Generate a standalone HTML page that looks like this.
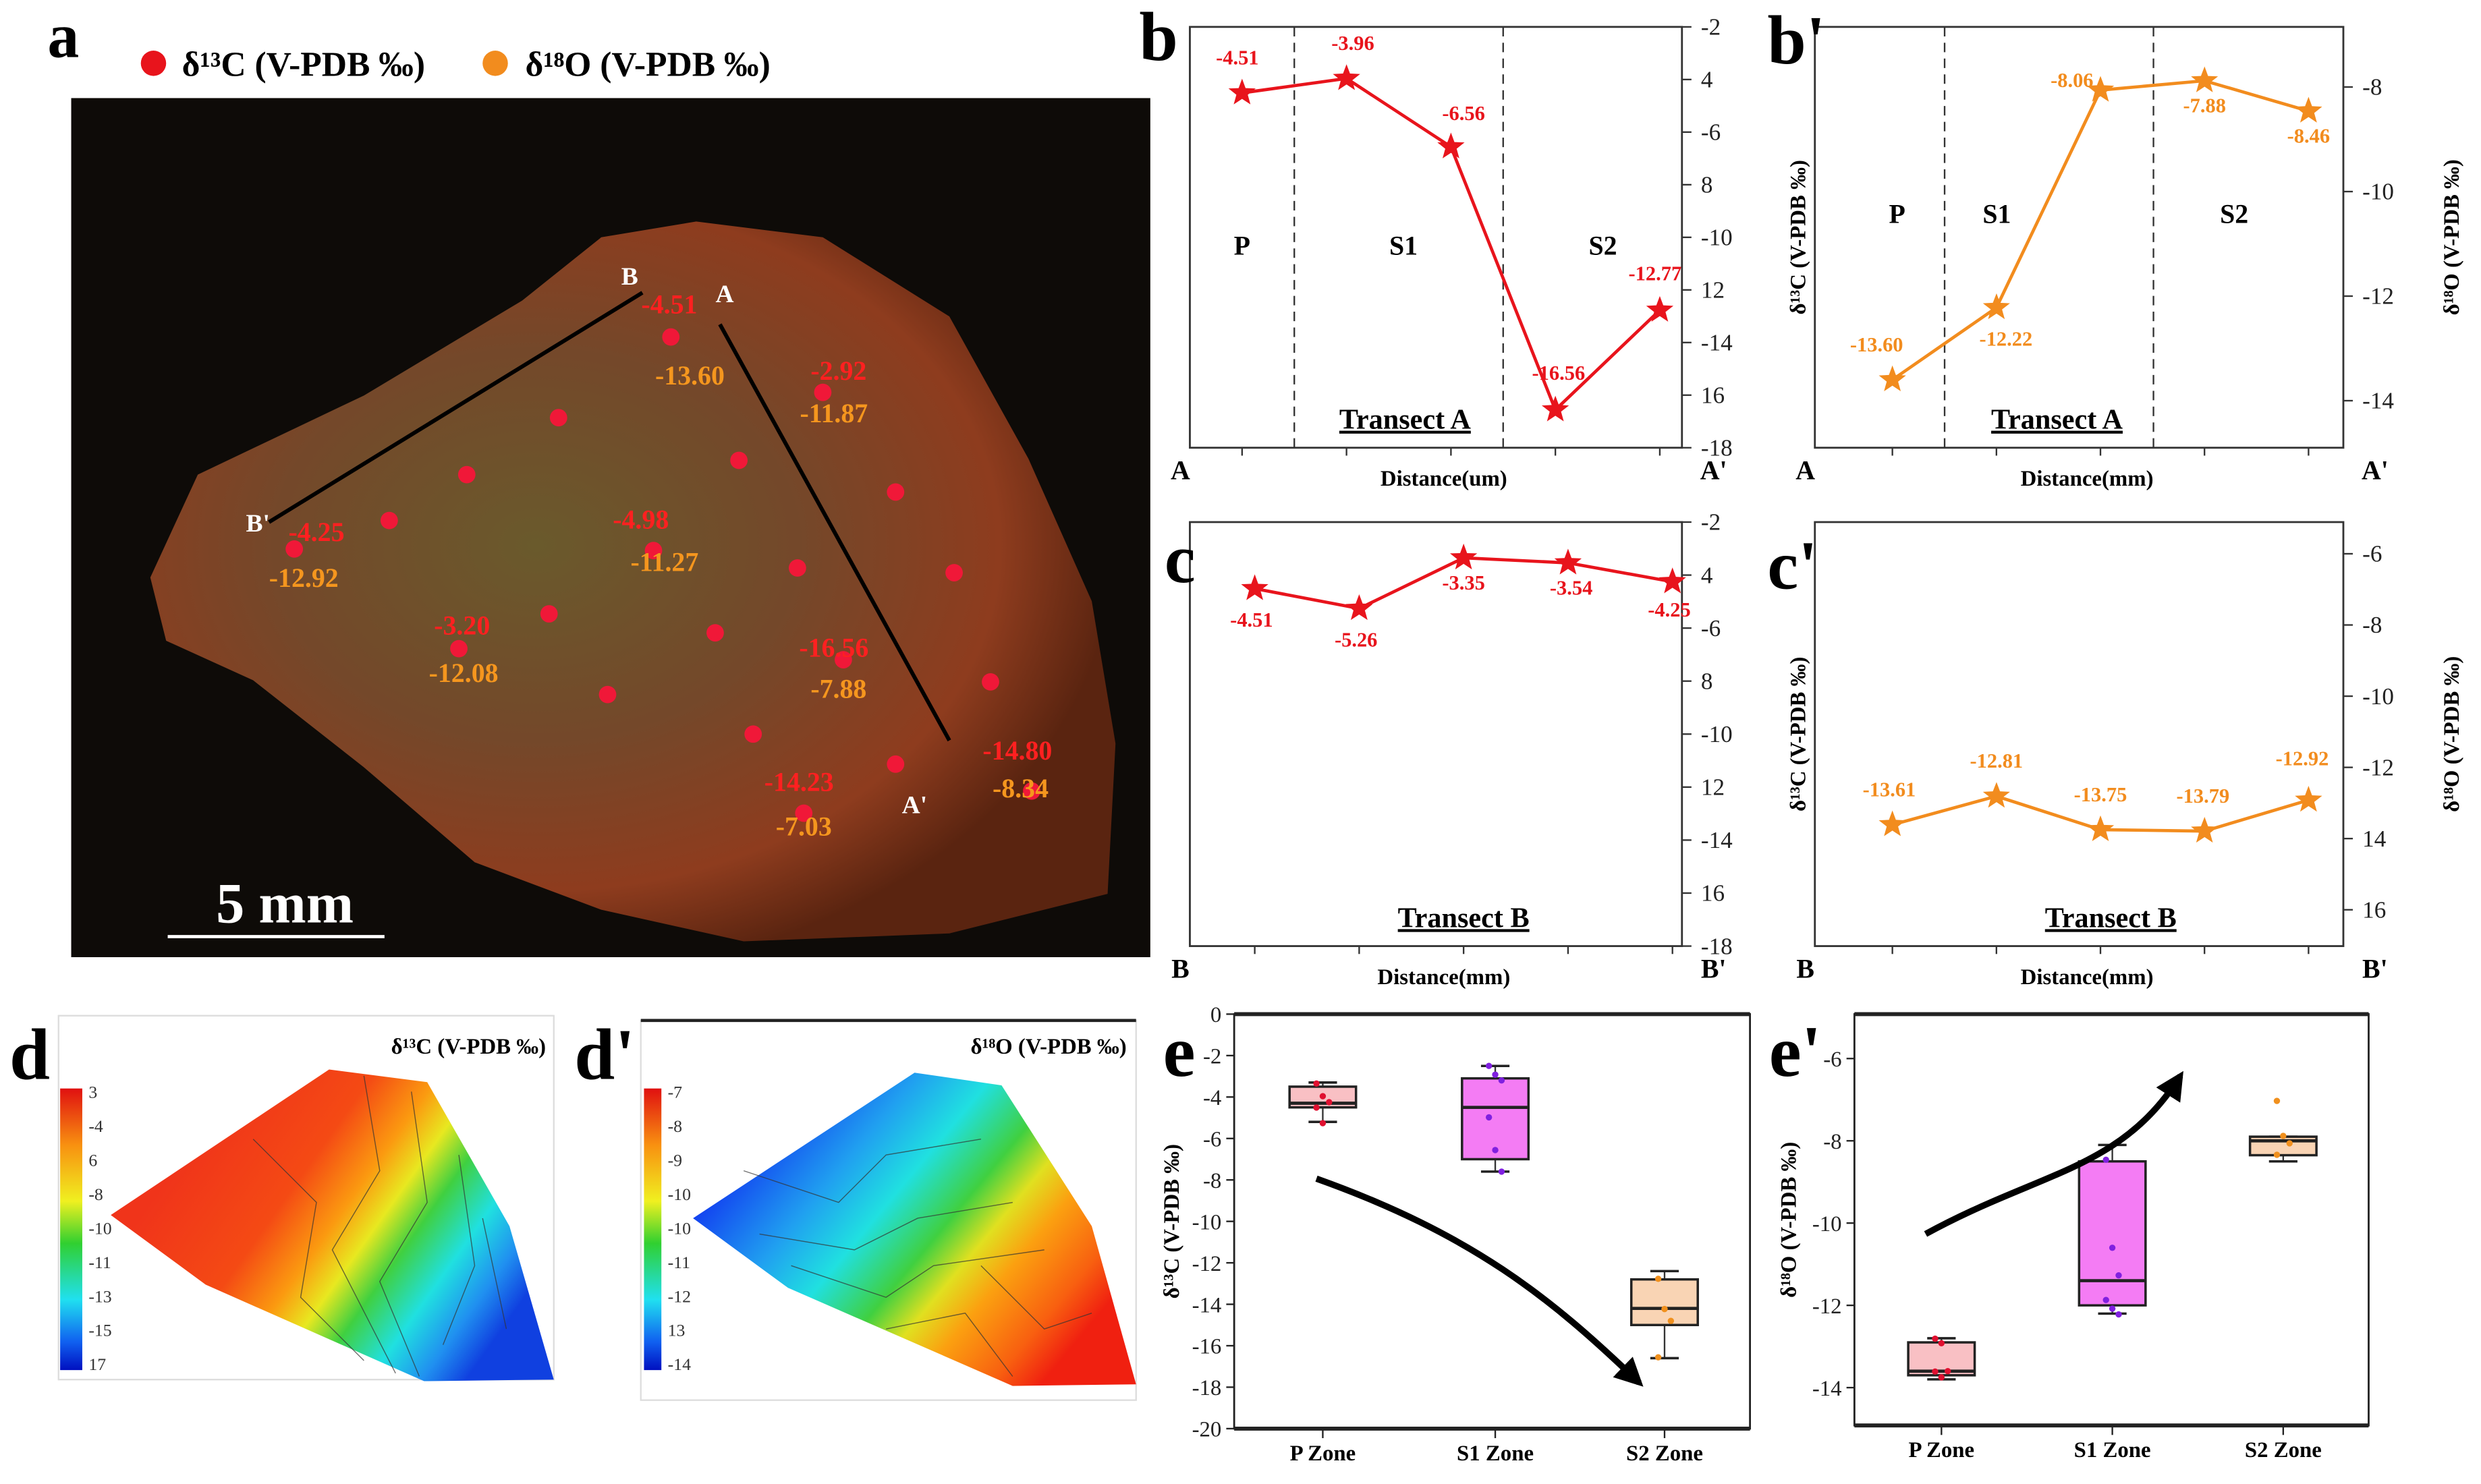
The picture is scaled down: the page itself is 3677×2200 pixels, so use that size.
<!DOCTYPE html>
<html><head><meta charset="utf-8"><style>
html,body{margin:0;padding:0;background:#fff;}
svg{display:block;font-family:"Liberation Serif",serif;font-weight:bold;}
</style></head><body>
<svg id="fig" width="3677" height="2200" viewBox="0 0 1568 938" preserveAspectRatio="none" xmlns="http://www.w3.org/2000/svg">
<defs>
<radialGradient id="sampG" cx="0.4" cy="0.45" r="0.6">
<stop offset="0" stop-color="#6a5a2c"/><stop offset="0.45" stop-color="#74482a"/><stop offset="0.8" stop-color="#8e3c1e"/><stop offset="1" stop-color="#5a2410"/></radialGradient>
<linearGradient id="dG" x1="0.15" y1="0.3" x2="0.95" y2="0.7">
<stop offset="0" stop-color="#f0341a"/><stop offset="0.3" stop-color="#f44a14"/><stop offset="0.45" stop-color="#fb9a10"/><stop offset="0.55" stop-color="#e8e820"/><stop offset="0.65" stop-color="#40d040"/><stop offset="0.78" stop-color="#20e0e0"/><stop offset="0.9" stop-color="#2090f0"/><stop offset="1" stop-color="#1040e0"/></linearGradient>
<linearGradient id="dpG" x1="0.05" y1="0.3" x2="0.9" y2="0.8">
<stop offset="0" stop-color="#1030f0"/><stop offset="0.25" stop-color="#20a0f0"/><stop offset="0.4" stop-color="#20e0e0"/><stop offset="0.55" stop-color="#40d040"/><stop offset="0.65" stop-color="#e0e020"/><stop offset="0.75" stop-color="#fba010"/><stop offset="0.9" stop-color="#f86010"/><stop offset="1" stop-color="#f02010"/></linearGradient>
<linearGradient id="cbG" x1="0" y1="0" x2="0" y2="1">
<stop offset="0" stop-color="#e01010"/><stop offset="0.2" stop-color="#f89010"/><stop offset="0.4" stop-color="#f0f020"/><stop offset="0.55" stop-color="#30d030"/><stop offset="0.75" stop-color="#20e0f0"/><stop offset="0.9" stop-color="#1060f0"/><stop offset="1" stop-color="#0010c0"/></linearGradient>
<marker id="arrowHead" viewBox="0 0 10 10" refX="8" refY="5" markerWidth="4.5" markerHeight="4.5" orient="auto"><path d="M0,0 L10,5 L0,10 z" fill="#000"/></marker>
</defs>
</svg>
<script>
// ---- Data ----
const transectA_C = [-4.51, -3.96, -6.56, -16.56, -12.77];
const transectA_O = [-13.60, -12.22, -8.06, -7.88, -8.46];
const transectB_C = [-4.51, -5.26, -3.35, -3.54, -4.25];
const transectB_O = [-13.61, -12.81, -13.75, -13.79, -12.92];
const ticksB = ["-2","4","-6","8","-10","12","-14","16","-18"];
const ticksBp = ["-8","-10","-12","-14"];
const ticksBpVal = [-8,-10,-12,-14];
const ticksCp = ["-6","-8","-10","-12","14","16"];
const ticksCpVal = [-6,-8,-10,-12,-14,-16];
const zones = ["P Zone","S1 Zone","S2 Zone"];
const eC_lo = [-5.2, -7.6, -16.6];
const eC_q1 = [-4.5, -7.0, -15.0];
const eC_med = [-4.3, -4.5, -14.2];
const eC_q3 = [-3.5, -3.1, -12.8];
const eC_hi = [-3.3, -2.5, -12.4];
const eC_pts = [[-3.35,-3.96,-4.25,-4.51,-5.26],[-2.5,-2.92,-3.2,-4.98,-6.56,-7.6],[-12.77,-14.23,-14.8,-16.56]];
const eO_lo = [-13.8, -12.2, -8.5];
const eO_q1 = [-13.7, -12.0, -8.35];
const eO_med = [-13.6, -11.4, -8.0];
const eO_q3 = [-12.9, -8.5, -7.9];
const eO_hi = [-12.8, -8.1, -7.9];
const eO_pts = [[-12.81,-12.92,-13.6,-13.61,-13.75],[-8.46,-10.6,-11.27,-11.87,-12.08,-12.22],[-7.03,-7.88,-8.06,-8.34]];
const eCticks = [0,-2,-4,-6,-8,-10,-12,-14,-16,-18,-20];
const eOticks = [-6,-8,-10,-12,-14];
const cbC = ["3","-4","6","-8","-10","-11","-13","-15","17"];
const cbO = ["-7","-8","-9","-10","-10","-11","-12","13","-14"];

const NS="http://www.w3.org/2000/svg";
const svg=document.getElementById('fig');
function mk(tag,at,par){const e=document.createElementNS(NS,tag);for(const k in at)e.setAttribute(k,at[k]);(par||svg).appendChild(e);return e;}
function tx(x,y,s,size,fill,anchor,extra){const e=mk('text',Object.assign({x:x,y:y,'font-size':size,fill:fill||'#000','text-anchor':anchor||'middle'},extra||{}));e.textContent=s;return e;}
function star(cx,cy,r,fill){let p=[];for(let i=0;i<10;i++){const a=-Math.PI/2+i*Math.PI/5;const rr=i%2?r*0.42:r;p.push((cx+rr*Math.cos(a)).toFixed(1)+','+(cy+rr*Math.sin(a)).toFixed(1));}return mk('polygon',{points:p.join(' '),fill:fill});}

// ---- Panel a ----
let el=mk('rect',{x:45,y:62,width:682,height:543,fill:'#0e0b08'});


el=mk('polygon',{points:'95,365 125,300 230,250 330,190 380,150 440,140 520,150 600,200 650,290 690,380 705,470 700,565 600,590 470,595 380,575 300,545 230,485 160,430 105,405',fill:'url(#sampG)'});


el=tx(40,36,'a',40,'#000','middle');


el=mk('circle',{cx:97,cy:40,r:8,fill:'#e8141c'});


el=tx(115,48,'δ¹³C (V-PDB ‰)',22,'#000','start');


el=mk('circle',{cx:313,cy:40,r:8,fill:'#f28c1e'});


el=tx(332,48,'δ¹⁸O (V-PDB ‰)',22,'#000','start');


el=mk('line',{x1:406,y1:185,x2:170,y2:330,stroke:'#000','stroke-width':2.5});


el=mk('line',{x1:455,y1:205,x2:600,y2:468,stroke:'#000','stroke-width':2.5});


const endLabels=[['B',398,180],['A',458,191],["B'",163,336],["A'",578,514]];
endLabels.forEach(l=>{const t=tx(l[1],l[2],l[0],16,'#fff');

});
const dots=[[424,213],[520,248],[353,264],[467,291],[295,300],[566,311],[246,329],[504,359],[603,362],[347,388],[452,400],[384,439],[626,431],[476,464],[566,483],[652,500],[186,347],[413,348],[290,410],[508,514],[533,417]];
dots.forEach(d=>{const c=mk('circle',{cx:d[0],cy:d[1],r:5.5,fill:'#f01838'});

});
const ann=[['-4.51','-13.60',423,198,436,243],['-2.92','-11.87',530,240,527,267],['-4.25','-12.92',200,342,192,371],['-4.98','-11.27',405,334,420,361],['-3.20','-12.08',292,401,293,431],['-16.56','-7.88',527,415,530,441],['-14.23','-7.03',505,500,508,528],['-14.80','-8.34',643,480,645,504]];
ann.forEach(a=>{let t=tx(a[2],a[3],a[0],17,'#ff2020');


t=tx(a[4],a[5],a[1],17,'#f5961e');

});
el=mk('line',{x1:106,y1:592,x2:243,y2:592,stroke:'#fff','stroke-width':2});


el=tx(180,583,'5 mm',36,'#fff');



// ---- Line chart panels ----
function linePanel(cfg){
  const g=mk('g',{});
  
  
  const {x0,x1,y0,y1,top,bot}=cfg;
  const Y=v=>y0+(top-v)/(top-bot)*(y1-y0);
  const X=i=>cfg.fx+i*cfg.dx;
  let e=mk('rect',{x:x0,y:y0,width:x1-x0,height:y1-y0,fill:'none',stroke:'#333','stroke-width':1.2},g);
  
  
  cfg.tickVals.forEach((v,i)=>{const y=Y(v);
    let t=mk('line',{x1:x1,y1:y,x2:x1+6,y2:y,stroke:'#333'},g);
    
    
    t=tx(x1+12,y+5,cfg.tickLabels[i],15,'#222','start',{'font-weight':'normal'});
    
    
    g.appendChild(t);});
  for(let i=0;i<5;i++){let t=mk('line',{x1:X(i),y1:y1,x2:X(i),y2:y1+5,stroke:'#333'},g);
    
    }
  (cfg.dash||[]).forEach(dx=>{let t=mk('line',{x1:dx,y1:y0,x2:dx,y2:y1,stroke:'#333','stroke-dasharray':'6,4'},g);
    
    });
  const pts=cfg.data.map((v,i)=>X(i)+','+Y(v)).join(' ');
  e=mk('polyline',{points:pts,fill:'none',stroke:cfg.color,'stroke-width':2},g);
  
  
  cfg.data.forEach((v,i)=>{let s=star(X(i),Y(v),9,cfg.color);g.appendChild(s);
    
    
    const off=cfg.lblOff[i];
    let t=tx(X(i)+off[0],Y(v)+off[1],v.toFixed(2),13,cfg.color);g.appendChild(t);
    
    });
  (cfg.zonesTxt||[]).forEach(z=>{let t=tx(z[1],z[2],z[0],17,'#000');g.appendChild(t);
    
    });
  e=tx(cfg.tx,y1-12,cfg.title,18,'#000','middle',{'text-decoration':'underline'});g.appendChild(e);
  
  
  e=tx(x0-6,y1+20,cfg.ends[0],17,'#000');g.appendChild(e);
  
  
  e=tx(x1+20,y1+20,cfg.ends[1],17,'#000');g.appendChild(e);
  
  
  e=tx((x0+x1)/2+5,y1+24,cfg.xlab,14,'#000');g.appendChild(e);
  
  
  if(cfg.leftLab){e=tx(0,0,'δ¹³C (V-PDB ‰)',14,'#000','middle',{transform:`translate(${x0-6},${(y0+y1)/2}) rotate(-90)`});g.appendChild(e);
    
    
    e=tx(0,0,'δ¹⁸O (V-PDB ‰)',14,'#000','middle',{transform:`translate(${x1+73},${(y0+y1)/2}) rotate(-90)`});g.appendChild(e);
    
    }
  e=tx(cfg.pl[1],cfg.pl[2],cfg.pl[0],44,'#000','start');g.appendChild(e);
  
  
}
const bTickVals=[-2,-4,-6,-8,-10,-12,-14,-16,-18];
linePanel({name:'panel-b',x0:752,x1:1063,y0:17,y1:283,top:-2,bot:-18,fx:785,dx:66,data:transectA_C,color:'#e8141c',tickVals:bTickVals,tickLabels:ticksB,
 dash:[818,950],lblOff:[[-3,-18],[4,-18],[8,-17],[2,-19],[-3,-19]],zonesTxt:[['P',785,161],['S1',887,161],['S2',1013,161]],tx:888,title:'Transect A',ends:['A',"A'"],xlab:'Distance(um)',pl:['b',720,38]});
linePanel({name:'panel-b-prime',x0:1147,x1:1481,y0:17,y1:283,top:-6.85,bot:-14.9,fx:1196,dx:65.75,data:transectA_O,color:'#f28c1e',tickVals:ticksBpVal,tickLabels:ticksBp,
 dash:[1229,1361],lblOff:[[-10,-18],[6,24],[-18,-2],[0,20],[0,20]],zonesTxt:[['P',1199,141],['S1',1262,141],['S2',1412,141]],tx:1300,title:'Transect A',ends:['A',"A'"],xlab:'Distance(mm)',leftLab:true,pl:["b'",1117,40]});
linePanel({name:'panel-c',x0:752,x1:1063,y0:330,y1:598,top:-2,bot:-18,fx:793,dx:66,data:transectB_C,color:'#e8141c',tickVals:bTickVals,tickLabels:ticksB,
 lblOff:[[-2,24],[-2,24],[0,20],[2,20],[-2,22]],tx:925,title:'Transect B',ends:['B',"B'"],xlab:'Distance(mm)',pl:['c',736,368]});
linePanel({name:'panel-c-prime',x0:1147,x1:1481,y0:330,y1:598,top:-5.11,bot:-17.02,fx:1196,dx:65.75,data:transectB_O,color:'#f28c1e',tickVals:ticksCpVal,tickLabels:ticksCp,
 lblOff:[[-2,-18],[0,-18],[0,-18],[-1,-18],[-4,-22]],tx:1334,title:'Transect B',ends:['B',"B'"],xlab:'Distance(mm)',leftLab:true,pl:["c'",1117,372]});

// ---- Panels d, d' ----
function contourPanel(cfg){
  const g=mk('g',{});
  
  
  let e=mk('rect',{x:cfg.bx,y:cfg.by,width:313,height:cfg.bh,fill:'#fff',stroke:'#ddd','stroke-width':1},g);
  
  
  if(cfg.topLine){e=mk('line',{x1:cfg.bx,y1:cfg.by,x2:cfg.bx+313,y2:cfg.by,stroke:'#222','stroke-width':2},g);
    
    }
  e=mk('polygon',{points:cfg.poly,fill:cfg.fill},g);
  
  
  cfg.lines.forEach(l=>{let c=mk('polyline',{points:l,fill:'none',stroke:'#333','stroke-width':0.6,opacity:0.7},g);
    
    });
  e=mk('rect',{x:cfg.cbx,y:688,width:cfg.cbw,height:178,fill:'url(#cbG)'},g);
  
  
  cfg.cb.forEach((s,i)=>{let t=tx(cfg.cbx+cfg.cbw+4,694+i*21.5,s,11,'#333','start',{'font-weight':'normal'});g.appendChild(t);
    
    });
  e=tx(cfg.tx,666,cfg.title,14,'#000','end');g.appendChild(e);
  
  
  e=tx(cfg.pl[1],682,cfg.pl[0],46,'#000','start');g.appendChild(e);
  
  
}
contourPanel({name:'panel-d',bx:37,by:642,bh:230,poly:'70,768 208,676 270,684 322,775 350,872 268,873 130,812',fill:'url(#dG)',
 lines:['160,720 200,760 190,820 230,860','230,680 240,740 210,790 250,868','260,690 270,760 240,810 265,870','290,730 300,800 280,850','305,770 320,840'],
 cbx:38,cbw:14,cb:cbC,tx:345,title:'δ¹³C (V-PDB ‰)',pl:['d',6]});
contourPanel({name:'panel-d-prime',bx:405,by:645,bh:240,topLine:true,poly:'438,770 578,678 633,686 690,775 718,875 640,876 498,814',fill:'url(#dpG)',
 lines:['470,740 530,760 560,730 620,720','480,780 540,790 580,770 640,760','500,800 560,820 590,800 660,790','560,840 610,830 640,870','620,800 660,840 690,830'],
 cbx:407,cbw:11,cb:cbO,tx:712,title:'δ¹⁸O (V-PDB ‰)',pl:["d'",363]});

// ---- Box plots ----
function boxPanel(cfg){
  const g=mk('g',{});
  
  
  const {x0,x1,y0,y1,top,bot}=cfg;
  const Y=v=>y0+(top-v)/(top-bot)*(y1-y0);
  let e=mk('rect',{x:x0,y:y0,width:x1-x0,height:y1-y0,fill:'none',stroke:'#222','stroke-width':1.2},g);
  
  
  e=mk('line',{x1:x0,y1:y0,x2:x1,y2:y0,stroke:'#222','stroke-width':2.5},g);
  
  
  e=mk('line',{x1:x0,y1:y1,x2:x1,y2:y1,stroke:'#222','stroke-width':2.5},g);
  
  
  cfg.ticks.forEach(v=>{let t=mk('line',{x1:x0-5,y1:Y(v),x2:x0,y2:Y(v),stroke:'#222'},g);
    
    
    t=tx(x0-8,Y(v)+5,String(v),14,'#222','end',{'font-weight':'normal'});g.appendChild(t);
    
    });
  zones.forEach((z,i)=>{const cx=cfg.xs[i];
    let t=mk('line',{x1:cx,y1:y1,x2:cx,y2:y1+6,stroke:'#222'},g);
    
    
    t=tx(cx,y1+20,z,14,'#000');g.appendChild(t);
    
    
    t=mk('line',{x1:cx,y1:Y(cfg.lo[i]),x2:cx,y2:Y(cfg.hi[i]),stroke:'#333'},g);
    
    
    [cfg.lo[i],cfg.hi[i]].forEach(v=>{let c=mk('line',{x1:cx-9,y1:Y(v),x2:cx+9,y2:Y(v),stroke:'#222','stroke-width':1.5},g);
      
      });
    t=mk('rect',{x:cx-21,y:Y(cfg.q3[i]),width:42,height:Y(cfg.q1[i])-Y(cfg.q3[i]),fill:cfg.fills[i],stroke:'#222','stroke-width':1.5},g);
    
    
    t=mk('line',{x1:cx-21,y1:Y(cfg.med[i]),x2:cx+21,y2:Y(cfg.med[i]),stroke:'#222','stroke-width':2},g);
    
    
    cfg.pts[i].forEach((v,j)=>{let c=mk('circle',{cx:cx+((j%3)-1)*4,cy:Y(v),r:2,fill:cfg.ptc[i]},g);
      
      });
  });
  e=tx(0,0,cfg.ylab,14,'#000','middle',{transform:`translate(${cfg.ylx},${(y0+y1)/2}) rotate(-90)`});g.appendChild(e);
  
  
  e=mk('path',{d:cfg.arrow,fill:'none',stroke:'#000','stroke-width':4,'marker-end':'url(#arrowHead)'},g);
  
  
  e=tx(cfg.pl[1],cfg.pl[2],cfg.pl[0],46,'#000','start');g.appendChild(e);
  
  
}
const fills=['#f9c0c4','#f47cf4','#f9d4b4'];
boxPanel({name:'panel-e',x0:780,x1:1106,y0:641,y1:903,top:0,bot:-20,xs:[836,945,1052],ticks:eCticks,lo:eC_lo,q1:eC_q1,med:eC_med,q3:eC_q3,hi:eC_hi,pts:eC_pts,fills:fills,ptc:['#e01030','#8020e0','#f0901e'],
 ylab:'δ¹³C (V-PDB ‰)',ylx:745,arrow:'M832,745 C930,780 980,820 1036,874',pl:['e',735,680]});
boxPanel({name:'panel-e-prime',x0:1172,x1:1497,y0:641,y1:901,top:-4.92,bot:-14.92,xs:[1227,1335,1443],ticks:eOticks,lo:eO_lo,q1:eO_q1,med:eO_med,q3:eO_q3,hi:eO_hi,pts:eO_pts,fills:fills,ptc:['#e01030','#8020e0','#f0901e'],
 ylab:'δ¹⁸O (V-PDB ‰)',ylx:1135,arrow:'M1217,780 C1290,740 1340,740 1378,680',pl:["e'",1118,680]});
</script>
</body></html>
